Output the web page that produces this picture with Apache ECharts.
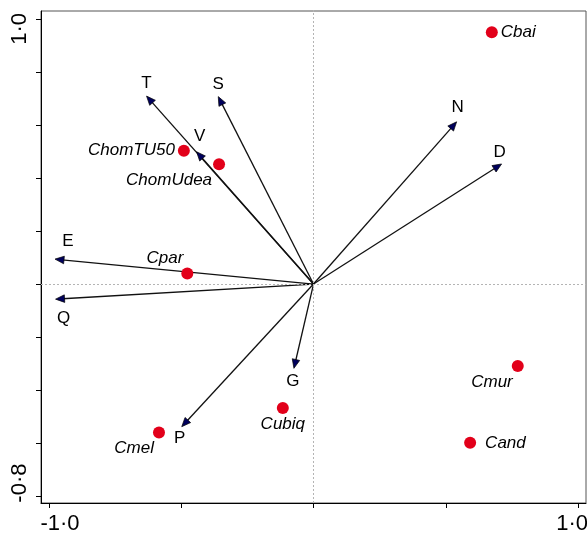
<!DOCTYPE html>
<html>
<head>
<meta charset="utf-8">
<script src="https://cdn.jsdelivr.net/npm/echarts@6/dist/echarts.min.js"></script>
<style>
html,body{margin:0;padding:0;background:#fff;}
#chart{width:587px;height:536px;}
</style>
</head>
<body>
<div id="chart"></div>
<script>
// Environmental vectors (arrows from origin)
const envNames = ['T', 'S', 'V', 'E', 'Q', 'P', 'G', 'N', 'D'];
const envX = [-0.631, -0.360, -0.442, -0.977, -0.975, -0.498, -0.074, 0.541, 0.711];
const envY = [0.709, 0.707, 0.499, 0.094, -0.057, -0.538, -0.318, 0.612, 0.453];

// Species scores (red points)
const spNames = ['Cbai', 'ChomTU50', 'ChomUdea', 'Cpar', 'Cmel', 'Cubiq', 'Cmur', 'Cand'];
const spX = [0.674, -0.490, -0.357, -0.477, -0.584, -0.116, 0.772, 0.592];
const spY = [0.950, 0.503, 0.452, 0.040, -0.560, -0.468, -0.309, -0.599];

// Axis ticks and labels
const xTicks = [-1, -0.5, 0, 0.5, 1];
const xLabelValues = [-1, 1];
const xLabelTexts = ['-1·0', '1·0'];
const yTicks = [-0.8, -0.6, -0.4, -0.2, 0, 0.2, 0.4, 0.6, 0.8, 1.0];
const yLabelValues = [-0.8, 1.0];
const yLabelTexts = ['-0·8', '1·0'];

// --- styling (label placement offsets in pixels) ---
const envLabelOffset = {
  T: [0, -13], S: [0, -12], V: [3, -15], E: [13, -18], Q: [8, 19],
  P: [-2, 12], G: [-1, 13], N: [1, -14], D: [-2, -12]
};
const spLabelStyle = {
  Cbai: {align: 'left', off: [9, 0]},
  ChomTU50: {align: 'right', off: [-9, 0]},
  ChomUdea: {align: 'right', off: [-7, 16]},
  Cpar: {align: 'right', off: [-4, -15]},
  Cmel: {align: 'right', off: [-5, 16]},
  Cubiq: {align: 'center', off: [0, 16]},
  Cmur: {align: 'right', off: [-5, 16]},
  Cand: {align: 'left', off: [15, 0]}
};

const FONT = '"Liberation Sans", Arial, Helvetica, sans-serif';

const chart = echarts.init(document.getElementById('chart'), null, {renderer: 'canvas'});

function xFmt(v) {
  const i = xLabelValues.findIndex(a => Math.abs(a - v) < 1e-6);
  if (i < 0) return '';
  return (v < 0 ? '{a|' : '{b|') + xLabelTexts[i] + '}';
}
function yFmt(v) {
  const i = yLabelValues.findIndex(a => Math.abs(a - v) < 1e-6);
  if (i < 0) return '';
  return (v < 0 ? '{a|' : '{b|') + yLabelTexts[i] + '}';
}

const envData = envNames.map((n, i) => [envX[i], envY[i], n]);
const spData = spNames.map((n, i) => {
  const s = spLabelStyle[n];
  return {
    name: n,
    value: [spX[i], spY[i]],
    label: {align: s.align, offset: s.off}
  };
});

const option = {
  animation: false,
  backgroundColor: '#fff',
  grid: {left: 41, right: 1, top: 11, bottom: 33, show: true, borderColor: '#555', borderWidth: 1,
         containLabel: false, outerBoundsMode: 'none'},
  xAxis: {
    type: 'value', min: -1.03, max: 1.03,
    axisLine: {show: true, onZero: false, lineStyle: {color: '#000', width: 1}},
    axisTick: {show: true, inside: false, length: 5, customValues: xTicks, lineStyle: {color: '#000'}},
    axisLabel: {
      show: true, customValues: xLabelValues, formatter: xFmt, margin: 10,
      color: '#000', fontFamily: FONT, fontSize: 22,
      rich: {
        a: {fontFamily: FONT, fontSize: 22, color: '#000', padding: [0, 0, 0, 22]},
        b: {fontFamily: FONT, fontSize: 22, color: '#000', padding: [0, 12, 0, 0]}
      }
    },
    splitLine: {show: false}
  },
  yAxis: {
    type: 'value', min: -0.826, max: 1.03,
    axisLine: {show: true, onZero: false, lineStyle: {color: '#000', width: 1}},
    axisTick: {show: true, inside: false, length: 5, customValues: yTicks, lineStyle: {color: '#000'}},
    axisLabel: {
      show: true, customValues: yLabelValues, formatter: yFmt, margin: 10, rotate: 90,
      color: '#000', fontFamily: FONT, fontSize: 22,
      rich: {
        a: {fontFamily: FONT, fontSize: 22, color: '#000', padding: [0, 0, 0, 26]},
        b: {fontFamily: FONT, fontSize: 22, color: '#000', padding: [0, 20, 0, 0]}
      }
    },
    splitLine: {show: false}
  },
  series: [
    {
      type: 'line', data: [], z: 1, silent: true,
      markLine: {
        silent: true, symbol: ['none', 'none'], animation: false,
        label: {show: false},
        lineStyle: {type: [2, 2], color: '#b4b4b4', width: 1},
        emphasis: {disabled: true},
        data: [{xAxis: 0}, {yAxis: 0}]
      }
    },
    {
      type: 'custom', z: 3, silent: true,
      data: envData,
      renderItem: function (params, api) {
        const name = envNames[params.dataIndex];
        const o = api.coord([0, 0]);
        const t = api.coord([api.value(0), api.value(1)]);
        const dx = t[0] - o[0], dy = t[1] - o[1];
        const len = Math.sqrt(dx * dx + dy * dy);
        const ux = dx / len, uy = dy / len;
        const hl = 9, hw = 3.8;
        const bx = t[0] - ux * hl, by = t[1] - uy * hl;
        const nx = -uy, ny = ux;
        const off = envLabelOffset[name];
        return {
          type: 'group',
          children: [
            {type: 'line', shape: {x1: o[0], y1: o[1], x2: bx + ux * 2, y2: by + uy * 2},
             style: {stroke: '#111', lineWidth: 1.3}},
            {type: 'polygon', shape: {points: [[t[0], t[1]], [bx + nx * hw, by + ny * hw], [bx - nx * hw, by - ny * hw]]},
             style: {fill: '#00005c', stroke: '#000', lineWidth: 0.7}},
            {type: 'text', x: t[0] + off[0], y: t[1] + off[1],
             style: {text: name, fill: '#000', fontSize: 17, fontFamily: FONT, align: 'center', verticalAlign: 'middle'}}
          ]
        };
      }
    },
    {
      type: 'scatter', z: 4, silent: true,
      symbol: 'circle', symbolSize: 12,
      itemStyle: {color: '#e2001a', opacity: 1},
      label: {
        show: true, position: 'inside', formatter: '{b}',
        fontStyle: 'italic', fontSize: 17, fontFamily: FONT, color: '#000',
        verticalAlign: 'middle'
      },
      data: spData
    }
  ]
};
chart.setOption(option);
</script>
</body>
</html>
